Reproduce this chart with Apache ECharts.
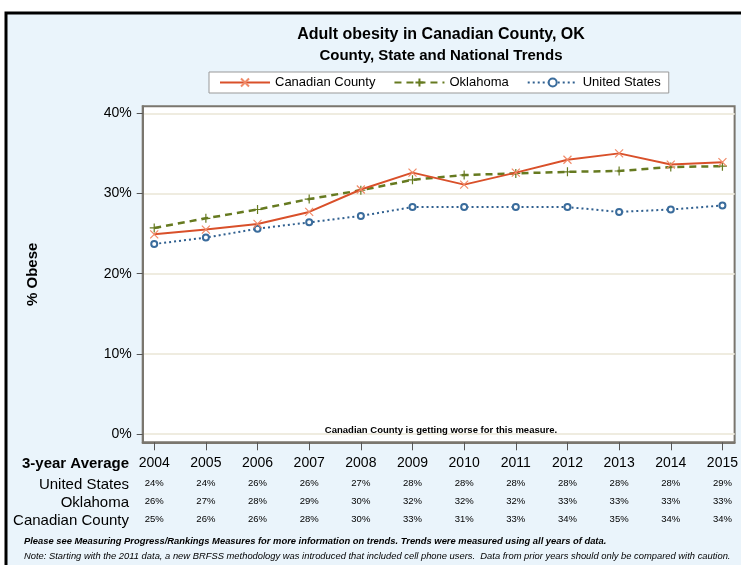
<!DOCTYPE html>
<html>
<head>
<meta charset="utf-8">
<script src="https://cdn.jsdelivr.net/npm/echarts@6/dist/echarts.min.js"></script>
<style>
html, body { margin: 0; padding: 0; background: #fff; }
#chart { width: 741px; height: 565px; }
</style>
</head>
<body>
<div id="chart"></div>
<script>
// years on the x axis (3-year averages)
var years = [2004, 2005, 2006, 2007, 2008, 2009, 2010, 2011, 2012, 2013, 2014, 2015];
// line values (% obese)
var canadian = [24.9, 25.5, 26.2, 27.7, 30.5, 32.6, 31.1, 32.6, 34.2, 35.0, 33.6, 33.9];
var oklahoma = [25.7, 26.9, 28.0, 29.3, 30.4, 31.7, 32.3, 32.5, 32.7, 32.8, 33.3, 33.4];
var unitedStates = [23.7, 24.5, 25.6, 26.4, 27.2, 28.3, 28.3, 28.3, 28.3, 27.7, 28.0, 28.5];
// rounded values printed in the table under the chart
var tableUS = [24, 24, 26, 26, 27, 28, 28, 28, 28, 28, 28, 29];
var tableOK = [26, 27, 28, 29, 30, 32, 32, 32, 33, 33, 33, 33];
var tableCC = [25, 26, 26, 28, 30, 33, 31, 33, 34, 35, 34, 34];
var yTicks = [0, 10, 20, 30, 40];

var FONT = 'Liberation Sans, Arial, sans-serif';

function pairs(vals) {
  return years.map(function (y, i) { return [y, vals[i]]; });
}

var chart = echarts.init(document.getElementById('chart'));

chart.setOption({
  animation: false,
  textStyle: { fontFamily: FONT },
  graphic: [
    {
      type: 'rect', z: -100, silent: true,
      shape: { x: 6, y: 13, width: 800, height: 600 },
      style: { fill: '#EAF4FB', stroke: '#000', lineWidth: 3 }
    },
    {
      type: 'text', x: 441, y: 27, silent: true,
      style: { text: 'Adult obesity in Canadian County, OK', align: 'center',
        font: 'bold 16px ' + FONT, fill: '#000' }
    },
    {
      type: 'text', x: 441, y: 48, silent: true,
      style: { text: 'County, State and National Trends', align: 'center',
        font: 'bold 15px ' + FONT, fill: '#000' }
    },
    {
      type: 'text', x: 441, y: 425, z: 10, silent: true,
      style: { text: 'Canadian County is getting worse for this measure.', align: 'center',
        font: 'bold 9.5px ' + FONT, fill: '#000' }
    },
    {
      type: 'text', x: 129, y: 456, silent: true,
      style: { text: '3-year Average', font: 'bold 15px ' + FONT, fill: '#000', align: 'right' }
    },
    {
      type: 'text', x: 129, y: 477, silent: true,
      style: { text: 'United States', font: '15px ' + FONT, fill: '#000', align: 'right' }
    },
    {
      type: 'text', x: 129, y: 495, silent: true,
      style: { text: 'Oklahoma', font: '15px ' + FONT, fill: '#000', align: 'right' }
    },
    {
      type: 'text', x: 129, y: 513, silent: true,
      style: { text: 'Canadian County', font: '15px ' + FONT, fill: '#000', align: 'right' }
    },
    {
      type: 'text', x: 24, y: 537, silent: true,
      style: { text: 'Please see Measuring Progress/Rankings Measures for more information on trends. Trends were measured using all years of data.',
        font: 'italic bold 9.4px ' + FONT, fill: '#000' }
    },
    {
      type: 'text', x: 24, y: 552, silent: true,
      style: { text: 'Note: Starting with the 2011 data, a new BRFSS methodology was introduced that included cell phone users.  Data from prior years should only be compared with caution.',
        font: 'italic 9.4px ' + FONT, fill: '#000' }
    }
  ],
  legend: {
    left: 209, top: 72,
    padding: [4, 8, 4, 10],
    backgroundColor: '#fff',
    borderColor: '#999',
    borderWidth: 1,
    borderRadius: 0,
    itemWidth: 50,
    itemHeight: 10,
    itemGap: 18,
    textStyle: { fontSize: 13, color: '#000', fontFamily: FONT },
    data: ['Canadian County', 'Oklahoma', 'United States']
  },
  grid: {
    left: 142.7, right: 2, top: 106.3, bottom: 122.7,
    show: true, backgroundColor: '#fff', borderColor: '#7a766e', borderWidth: 2
  },
  xAxis: {
    type: 'value',
    min: 2003.777, max: 2015.236,
    axisLine: { onZero: false, lineStyle: { color: '#7a766e', width: 2 } },
    axisTick: { customValues: years, length: 8, lineStyle: { color: '#555', width: 1 } },
    splitLine: { show: false },
    axisLabel: {
      customValues: years,
      margin: 10,
      color: '#000',
      formatter: function (v) {
        var i = years.indexOf(v);
        return '{y|' + v + '}\n{v|' + tableUS[i] + '%}\n{v|' + tableOK[i] + '%}\n{v|' + tableCC[i] + '%}';
      },
      rich: {
        y: { fontSize: 14, lineHeight: 22, color: '#000', fontFamily: FONT },
        v: { fontSize: 9.5, lineHeight: 18, color: '#000', fontFamily: FONT }
      }
    }
  },
  yAxis: {
    type: 'value',
    min: -1.03, max: 40.87,
    name: '% Obese',
    nameLocation: 'middle',
    nameRotate: 90,
    nameGap: 102,
    nameTextStyle: { fontSize: 15, fontWeight: 'bold', color: '#000', fontFamily: FONT },
    axisLine: { onZero: false, lineStyle: { color: '#7a766e', width: 2 } },
    axisTick: { show: true, customValues: yTicks, length: 6, lineStyle: { color: '#555', width: 1 } },
    splitLine: { show: true, lineStyle: { color: '#EFECE0', width: 2 } },
    axisLabel: {
      customValues: yTicks,
      margin: 11,
      fontSize: 14,
      color: '#000',
      formatter: '{value}%'
    }
  },
  series: [
    {
      name: 'Canadian County', type: 'line',
      data: pairs(canadian),
      symbol: 'path://M0,0L10,10M10,0L0,10',
      symbolSize: 8,
      lineStyle: { color: '#D9502A', width: 2 },
      itemStyle: { color: 'rgba(0,0,0,0)', borderColor: '#F08A68', borderWidth: 1.2 },
      z: 4
    },
    {
      name: 'Oklahoma', type: 'line',
      data: pairs(oklahoma),
      symbol: 'path://M5,0L5,10M0,5L10,5',
      symbolSize: 9,
      lineStyle: { color: '#667A20', width: 2.5, type: [7, 5] },
      itemStyle: { color: 'rgba(0,0,0,0)', borderColor: '#667A20', borderWidth: 1.2 },
      z: 3
    },
    {
      name: 'United States', type: 'line',
      data: pairs(unitedStates),
      symbol: 'emptyCircle',
      symbolSize: 6,
      lineStyle: { color: '#2F5F8F', width: 2, type: [2, 3] },
      itemStyle: { color: '#3A6C9C', borderColor: '#3A6C9C', borderWidth: 1 },
      z: 2
    }
  ]
});
</script>
</body>
</html>
